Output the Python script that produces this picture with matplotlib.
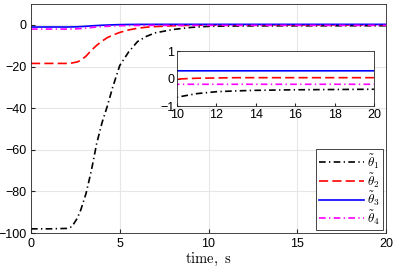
import matplotlib
matplotlib.use("Agg")
import matplotlib.pyplot as plt

plt.rcParams['mathtext.fontset'] = 'cm'
plt.rcParams['font.family'] = ['Liberation Sans', 'DejaVu Sans']

# time samples, s
t = [0, 1, 2, 2.3, 2.6, 2.8, 3.1, 3.4, 3.7, 4.0, 4.3, 4.6, 5.0, 5.5, 6.0,
     6.5, 7.0, 8.0, 9.0, 10, 11, 12, 13, 14, 16, 18, 20]

theta1 = [-98, -98, -97.8, -97, -93, -89, -81, -70, -57, -47, -39, -30, -19.5,
          -13, -8, -5.5, -3.8, -2.2, -1.2, -0.68, -0.55, -0.48, -0.45, -0.43,
          -0.41, -0.40, -0.39]
theta2 = [-18.5, -18.5, -18.5, -18.3, -17.8, -17, -15, -12.2, -9.8, -7.8, -6.1,
          -4.9, -3.6, -2.4, -1.6, -1.1, -0.8, -0.4, -0.15, -0.02, 0.01, 0.02,
          0.03, 0.03, 0.03, 0.03, 0.03]
theta3 = [-1, -1, -1, -0.95, -0.9, -0.8, -0.65, -0.45, -0.3, -0.15, -0.05,
          0.05, 0.15, 0.22, 0.26, 0.27, 0.28, 0.28, 0.28, 0.28, 0.28, 0.28,
          0.28, 0.28, 0.28, 0.28, 0.28]
theta4 = [-2, -2, -2, -1.95, -1.85, -1.75, -1.5, -1.25, -1.0, -0.8, -0.65,
          -0.5, -0.4, -0.3, -0.25, -0.23, -0.22, -0.21, -0.21, -0.21, -0.21,
          -0.21, -0.21, -0.21, -0.21, -0.21, -0.21]

labels = [r'$\tilde{\theta}_1$', r'$\tilde{\theta}_2$',
          r'$\tilde{\theta}_3$', r'$\tilde{\theta}_4$']
dashdot = (0, (4, 2, 0.8, 2))
dashed = (0, (5.5, 2.5))
styles = [('k', dashdot), ('#ff0000', dashed), ('#0000ff', '-'), ('#ff00ff', dashdot)]
series = [theta1, theta2, theta3, theta4]

fig = plt.figure(figsize=(3.93, 2.75), dpi=100)
ax = fig.add_axes([0.0789, 0.1527, 0.9033, 0.8323])

for y, (c, ls), lab in zip(series, styles, labels):
    ax.plot(t, y, color=c, linestyle=ls, linewidth=1.2, label=lab)

ax.set_xlim(0, 20)
ax.set_ylim(-100, 10)
ax.set_xticks([0, 5, 10, 15, 20])
ax.set_yticks([-100, -80, -60, -40, -20, 0])
ax.grid(True, color='#e6e6e6', linewidth=0.8)
ax.tick_params(direction='in', labelsize=9, length=3, color='#262626')
for s in ax.spines.values():
    s.set_color('#262626')
    s.set_linewidth(0.6)
ax.set_xlabel(r'$\mathrm{time,\ s}$', fontsize=10.5, labelpad=1)

leg = ax.legend(loc='lower right', fontsize=9.5, handlelength=3.4,
                fancybox=False, framealpha=1, edgecolor='#262626',
                borderaxespad=0.2, labelspacing=0.0, handletextpad=0.2,
                borderpad=0.25)
leg.get_frame().set_linewidth(0.6)

# inset
ins = fig.add_axes([0.4504, 0.6145, 0.501, 0.2])
for y, (c, ls) in zip(series, styles):
    ins.plot(t, y, color=c, linestyle=ls, linewidth=1.2)
ins.set_xlim(10, 20)
ins.set_ylim(-1, 1)
ins.set_xticks([10, 12, 14, 16, 18, 20])
ins.set_yticks([-1, 0, 1])
ins.tick_params(direction='in', labelsize=9, length=2, pad=2, color='#262626')
for s in ins.spines.values():
    s.set_color('#262626')
    s.set_linewidth(0.6)

fig.savefig('out.png', dpi=100)
